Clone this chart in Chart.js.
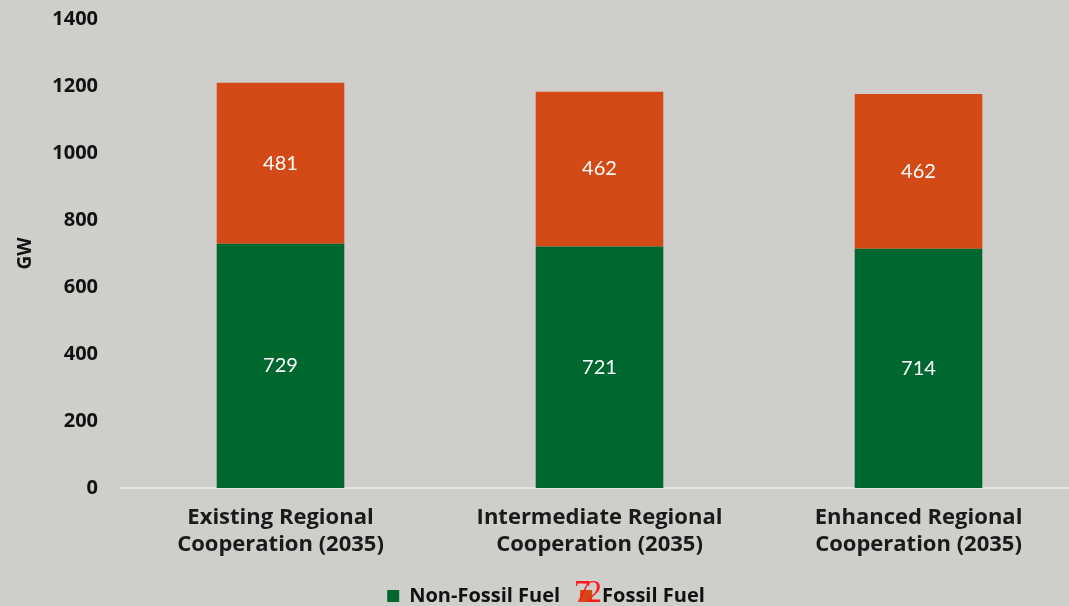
<!DOCTYPE html>
<html>
<head>
<meta charset="utf-8">
<script src="https://cdn.jsdelivr.net/npm/chart.js@4/dist/chart.umd.min.js"></script>
<style>
    html, body { margin: 0; padding: 0; background: #d0cecb; overflow: hidden; }
    #wrap { position: absolute; left: 0; top: -8px; width: 1078px; height: 636px; }
</style>
</head>
<body>
<div id="wrap"><canvas id="capacity"></canvas></div>
<script>
(function() {
    "use strict";

    // Data
    var categories = [
        ["Existing Regional", "Cooperation (2035)"],
        ["Intermediate Regional", "Cooperation (2035)"],
        ["Enhanced Regional", "Cooperation (2035)"]
    ];
    var nonFossil = [729, 721, 714];
    var fossil = [481, 462, 462];
    var yTicks = [0, 200, 400, 600, 800, 1000, 1200, 1400];

    var BOLD = "'Open Sans', Lato, sans-serif";
    var PLAIN = "Lato, 'Open Sans', sans-serif";

    // Value labels in the middle of each segment
    var segmentLabels = {
        id: 'segmentLabels',
        afterDatasetsDraw: function(chart) {
            var ctx = chart.ctx;
            ctx.save();
            ctx.fillStyle = '#ffffff';
            ctx.font = '20px ' + PLAIN;
            ctx.textAlign = 'center';
            ctx.textBaseline = 'middle';
            chart.data.datasets.forEach(function(ds, i) {
                chart.getDatasetMeta(i).data.forEach(function(bar, j) {
                    var mid = (bar.y + bar.base) / 2;
                    ctx.fillText(ds.data[j], bar.x, mid);
                });
            });
            ctx.restore();
        }
    };

    // Stray page number that sits over the legend
    var strayMark = {
        id: 'strayMark',
        afterDraw: function(chart) {
            var ctx = chart.ctx;
            ctx.save();
            ctx.fillStyle = '#ff1a1a';
            ctx.font = '32px "Liberation Serif", serif';
            ctx.textBaseline = 'alphabetic';
            // canvas is shifted up 8px
            ctx.fillText('7', 574, 610);
            ctx.fillText('2', 586, 610);
            ctx.restore();
        }
    };

    new Chart(document.getElementById('capacity'), {
        type: 'bar',
        data: {
            labels: categories,
            datasets: [
                {
                    label: 'Non-Fossil Fuel',
                    data: nonFossil,
                    backgroundColor: '#00672f',
                    barPercentage: 0.4,
                    categoryPercentage: 1
                },
                {
                    label: 'Fossil Fuel',
                    data: fossil,
                    backgroundColor: '#d34a17',
                    barPercentage: 0.4,
                    categoryPercentage: 1
                }
            ]
        },
        options: {
            responsive: true,
            maintainAspectRatio: false,
            animation: false,
            layout: { padding: { left: 14, bottom: 12 } },
            plugins: {
                tooltip: { enabled: false },
                legend: {
                    position: 'bottom',
                    labels: {
                        boxWidth: 12,
                        boxHeight: 12,
                        padding: 20,
                        color: '#111',
                        font: { family: BOLD, size: 20, weight: 'bold' }
                    }
                }
            },
            scales: {
                x: {
                    stacked: true,
                    grid: { display: false },
                    border: { color: '#e6e4e1', width: 2 },
                    ticks: {
                        color: '#1a1a1a',
                        padding: 8,
                        maxRotation: 0,
                        font: { family: BOLD, size: 22, weight: 'bold', lineHeight: 1.23 }
                    }
                },
                y: {
                    stacked: true,
                    min: 0,
                    max: 1400,
                    afterBuildTicks: function(scale) {
                        scale.ticks = yTicks.map(function(v) { return { value: v }; });
                    },
                    afterFit: function(scale) { scale.width = 107; },
                    grid: { display: false },
                    border: { display: false },
                    title: {
                        display: true,
                        text: 'GW',
                        color: '#111',
                        padding: { top: 0, bottom: 0 },
                        font: { family: BOLD, size: 19, weight: 'bold' }
                    },
                    ticks: {
                        color: '#111',
                        padding: 15,
                        callback: function(v) { return String(v); },
                        font: { family: BOLD, size: 20, weight: 'bold' }
                    }
                }
            }
        },
        plugins: [segmentLabels, strayMark]
    });

})();
</script>
</body>
</html>
